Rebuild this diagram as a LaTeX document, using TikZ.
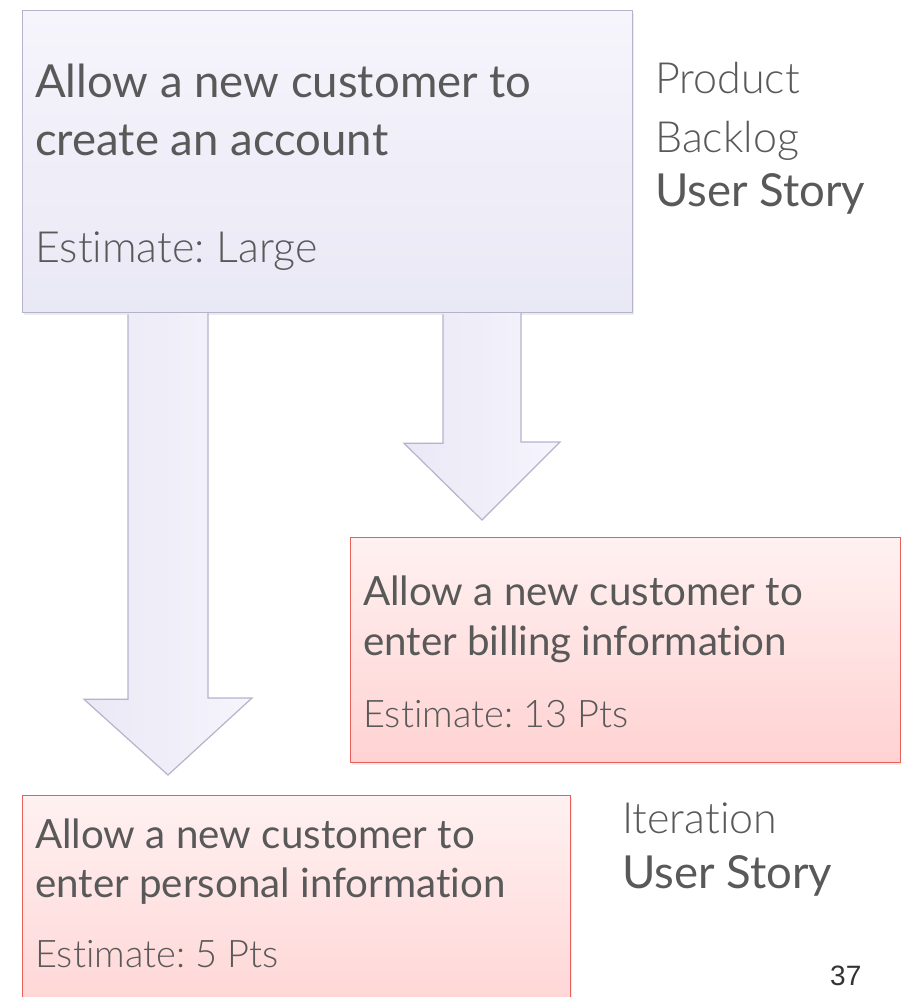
\documentclass[tikz,border=0pt]{standalone}
\usepackage{fontspec}
\setmainfont{Lato}[Ligatures=NoCommon]
\newfontfamily\lightfont{Lato Light}[Ligatures=NoCommon]
\newfontfamily\numfont{Liberation Sans}
\usepackage{xcolor}
\usetikzlibrary{positioning,calc,shadows}
\frenchspacing

\definecolor{storygray}{HTML}{595959}
\definecolor{lavtop}{HTML}{F6F5FC}
\definecolor{lavbot}{HTML}{E9E8F5}
\definecolor{lavline}{HTML}{B5B3CC}
\definecolor{redtop}{HTML}{FFF1F1}
\definecolor{redbot}{HTML}{FFD2D2}
\definecolor{redline}{HTML}{E8605C}

\begin{document}
\begin{tikzpicture}[x=1pt,y=-1pt,
    story/.style={draw, line width=1.3pt, anchor=north west, inner sep=0pt,
        drop shadow={opacity=0.15, shadow xshift=1.5pt, shadow yshift=-2.5pt}},
    backlog/.style={story, draw=lavline, top color=lavtop, bottom color=lavbot},
    iteration/.style={story, draw=redline, top color=redtop, bottom color=redbot},
    bigarrow/.style={draw=lavline, line width=1.2pt, line join=miter,
        left color=lavbot, right color=lavtop},
    line/.style={anchor=base west, inner sep=0pt, text=storygray},
    big/.style={line, font=\fontsize{45.5}{45.5}\selectfont},
    small/.style={line, font=\fontsize{40.3}{40.3}\selectfont},
    bigthin/.style={line, font=\lightfont\fontsize{43}{43}\selectfont},
    smallthin/.style={line, font=\lightfont\fontsize{38}{38}\selectfont}
]
\useasboundingbox (0,0) rectangle (901,997);
\clip (0,0) rectangle (901,997);

% story cards
\node[backlog, minimum width=610pt, minimum height=302pt] (backlog) at (22,10) {};
\node[iteration, minimum width=550pt, minimum height=225pt] (billing) at (350,537) {};
\node[iteration, minimum width=548pt, minimum height=240pt] (personal) at (22,795) {};

% split arrows
\coordinate (tl) at ($(backlog.south west)+(106,1)$);
\coordinate (tipL) at ($(personal.north west)+(146,-20)$);
\coordinate (tr) at ($(backlog.south west)+(421,1)$);
\coordinate (tipR) at ($(billing.north west)+(132,-17)$);
\draw[bigarrow] (tl) -- ++(0,385) -- ++(-44,0) -- (tipL) -- ++(84,-77) -- ++(-44,0) -- ++(0,-385);
\draw[bigarrow] (tr) -- ++(0,129) -- ++(-39,0) -- (tipR) -- ++(78,-78) -- ++(-39,0) -- ++(0,-129);

% card texts
\node[big] (bl1) at (35,97) {Allow a new customer to};
\node[big] (bl2) at (35,155) {create an account};
\node[bigthin] (blest) at (35,262) {Estimate: Large};

\node[small] (bi1) at (363,605) {Allow a new customer to};
\node[small] (bi2) at (363,655) {enter billing information};
\node[smallthin] (biest) at (363,727) {Estimate: 13 Pts};

\node[small] (pe1) at (35,848) {Allow a new customer to};
\node[small] (pe2) at (35,897) {enter personal information};
\node[smallthin] (peest) at (35,967) {Estimate: 5 Pts};

% side labels
\node[bigthin] (prod) at (655,93) {Product};
\node[bigthin] (blog) at (655,152) {Backlog};
\node[big] (blstory) at (655,206) {User Story};
\node[bigthin] (iter) at (622,833) {Iteration};
\node[big] (itstory) at (622,888) {User Story};

\node[line, font=\numfont\fontsize{28}{28}\selectfont, text=black!80] (page) at (830,985) {37};
\end{tikzpicture}
\end{document}
